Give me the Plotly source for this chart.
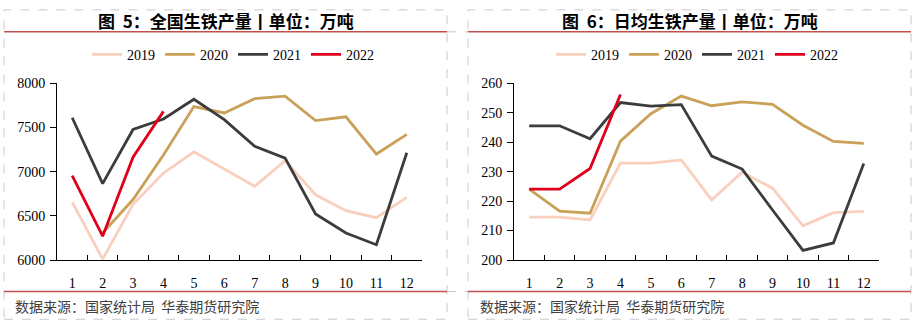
import plotly.graph_objects as go

W, H = 915, 332

months = [str(i) for i in range(1, 13)]
years = ["2019", "2020", "2021", "2022"]
colors = {"2019": "#F9CFBD", "2020": "#C9A158", "2021": "#3C3C3C", "2022": "#E0001B"}

# Fig 5: national pig iron output (10k tonnes)
total_2019 = [6656, 6010, 6630, 6984, 7225, 7030, 6836, 7124, 6739, 6559, 6480, 6710]
total_2020 = [None, 6306, 6685, 7189, 7737, 7665, 7827, 7856, 7578, 7622, 7200, 7423]
total_2021 = [7611, 6865, 7478, 7597, 7820, 7590, 7287, 7153, 6522, 6306, 6173, 7215]
total_2022 = [6955, 6270, 7164, 7683]

# Fig 6: daily average pig iron output (10k tonnes)
daily_2019 = [214.6, 214.6, 213.6, 232.9, 232.9, 234.0, 220.4, 229.8, 224.4, 211.6, 216.1, 216.5]
daily_2020 = [224.1, 216.6, 215.9, 240.4, 249.7, 255.7, 252.4, 253.7, 252.9, 245.8, 240.3, 239.6]
daily_2021 = [245.6, 245.6, 241.2, 253.5, 252.3, 252.8, 235.3, 230.9, 217.0, 203.3, 205.8, 232.8]
daily_2022 = [224.1, 224.1, 231.1, 256.2]

left_data = dict(zip(years, [total_2019, total_2020, total_2021, total_2022]))
right_data = dict(zip(years, [daily_2019, daily_2020, daily_2021, daily_2022]))

title_left = "图&nbsp;&nbsp;5：全国生铁产量丨单位：万吨"
title_right = "图&nbsp;&nbsp;6：日均生铁产量丨单位：万吨"
source = "数据来源：国家统计局  华泰期货研究院"

fig = go.Figure()

for y in years:
    vals = left_data[y]
    fig.add_trace(go.Scatter(x=months[:len(vals)], y=vals, mode="lines", name=y,
                             line=dict(color=colors[y], width=2.8),
                             xaxis="x", yaxis="y", legend="legend"))
for y in years:
    vals = right_data[y]
    fig.add_trace(go.Scatter(x=months[:len(vals)], y=vals, mode="lines", name=y,
                             line=dict(color=colors[y], width=2.8),
                             xaxis="x2", yaxis="y2", legend="legend2"))

px = lambda v: v / W
py = lambda v: 1 - v / H

serif = "Liberation Serif, Times New Roman, serif"
cjk = "Noto Sans CJK SC, sans-serif"

xax = dict(type="category", categoryorder="array", categoryarray=months,
           range=[-0.5, 11.5], showline=True, linecolor="black", linewidth=1,
           ticks="inside", ticklen=5, tickcolor="black", tickson="boundaries",
           showgrid=False, zeroline=False, ticklabelstandoff=10,
           tickfont=dict(family=serif, size=14, color="black"), fixedrange=True)
yax = dict(showline=True, linecolor="black", linewidth=1, ticks="outside", ticklen=6,
           tickcolor="black", showgrid=False, zeroline=False,
           tickfont=dict(family=serif, size=14, color="black"), ticklabelstandoff=2)

fig.update_layout(
    width=W, height=H, margin=dict(l=0, r=0, t=0, b=0),
    paper_bgcolor="white", plot_bgcolor="white",
    xaxis=dict(xax, domain=[px(57), px(422)], anchor="y"),
    yaxis=dict(yax, domain=[py(265), py(80)], range=[6000, 8000], dtick=500, anchor="x"),
    xaxis2=dict(xax, domain=[px(514), px(879)], anchor="y2"),
    yaxis2=dict(yax, domain=[py(265), py(80)], range=[200, 260], dtick=10, anchor="x2"),
    legend=dict(orientation="h", x=px(233), xanchor="center", y=py(50), yanchor="middle",
                font=dict(family=serif, size=14, color="black"), bgcolor="rgba(0,0,0,0)",
                itemclick=False, itemdoubleclick=False, tracegroupgap=0),
    legend2=dict(orientation="h", x=px(697), xanchor="center", y=py(50), yanchor="middle",
                 font=dict(family=serif, size=14, color="black"), bgcolor="rgba(0,0,0,0)",
                 itemclick=False, itemdoubleclick=False, tracegroupgap=0),
    showlegend=True,
)

# Titles and source notes
for xc, t in [(226, title_left), (690, title_right)]:
    fig.add_annotation(x=px(xc), y=py(14), xref="paper", yref="paper", text="<b>" + t + "</b>",
                       showarrow=False, xanchor="center", yanchor="middle",
                       font=dict(family=cjk, size=17, color="black"))
for xl in [13, 478]:
    fig.add_annotation(x=px(xl), y=py(313), xref="paper", yref="paper", text=source,
                       showarrow=False, xanchor="left", yanchor="middle",
                       font=dict(family=cjk, size=14, color="#404040"))

# Panel frames
shapes = []
dash = dict(color="#C8C8C8", width=1, dash="dash")
red = dict(color="#C0504D", width=1.5)
for x0, x1 in [(4, 447), (468, 911)]:
    shapes.append(dict(type="rect", xref="paper", yref="paper", x0=px(x0), x1=px(x1),
                       y0=py(327), y1=py(3), line=dash, fillcolor="rgba(0,0,0,0)", layer="below"))
    for yy in [26, 298]:
        shapes.append(dict(type="line", xref="paper", yref="paper", x0=px(x0), x1=px(x1),
                           y0=py(yy), y1=py(yy), line=red))
for yy in [26, 298]:
    shapes.append(dict(type="line", xref="paper", yref="paper", x0=px(447), x1=px(468),
                       y0=py(yy), y1=py(yy), line=dash))
fig.update_layout(shapes=shapes)

fig.write_html("out.html")
